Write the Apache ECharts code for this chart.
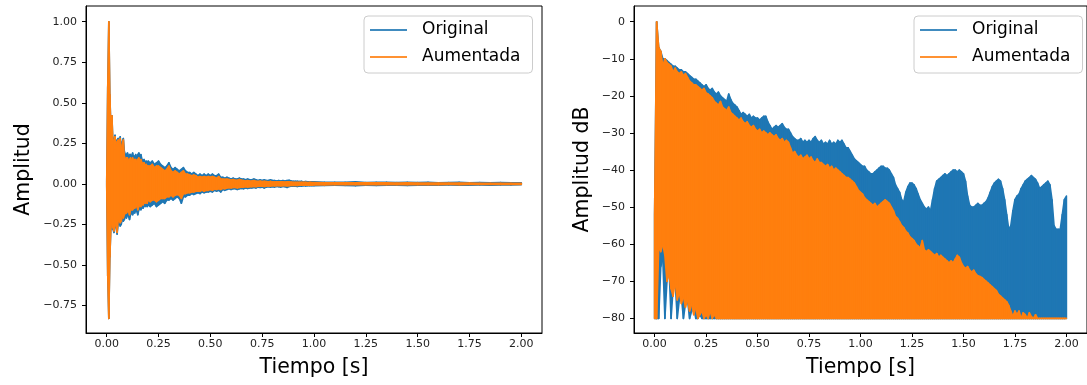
<!DOCTYPE html>
<html>
<head>
<meta charset="utf-8">
<script src="https://cdn.jsdelivr.net/npm/echarts@6/dist/echarts.min.js"></script>
<style>
  html, body { margin: 0; padding: 0; background: #fff; }
  #chart { width: 1087px; height: 385px; }
</style>
</head>
<body>
<div id="chart"></div>
<script>
// ---------------- DATA ----------------
const SERIES_NAMES = ['Original', 'Aumentada'];
const X_TICKS = [0, 0.25, 0.5, 0.75, 1.0, 1.25, 1.5, 1.75, 2.0];
const Y_TICKS_AMP = [-0.75, -0.5, -0.25, 0, 0.25, 0.5, 0.75, 1.0];
const Y_TICKS_DB = [-80, -70, -60, -50, -40, -30, -20, -10, 0];

// Left panel sample grid (start, step, count) : envelope readings of the waveform
const L_TIME_SEGMENTS = [[0, 0.005, 40], [0.2, 0.01, 80], [1.0, 0.05, 21]];

// Original (blue) waveform upper / lower envelope
const L_ORIG_UP = [
  0.01, 0.60, 1.00, 0.55, 0.35, 0.42, 0.25, 0.28, 0.30, 0.22, 0.27, 0.28, 0.25, 0.29, 0.22, 0.26, 0.28, 0.20, 0.18, 0.18,
  0.19, 0.17, 0.18, 0.18, 0.17, 0.19, 0.16, 0.17, 0.18, 0.16, 0.18, 0.19, 0.17, 0.18, 0.15, 0.14, 0.15, 0.13, 0.14, 0.13,
  0.14, 0.13, 0.14, 0.12, 0.13, 0.14, 0.12, 0.11, 0.10, 0.11,
  0.13, 0.10, 0.09, 0.10, 0.09, 0.08, 0.09, 0.10, 0.08, 0.07,
  0.07, 0.06, 0.07, 0.06, 0.05, 0.06, 0.05, 0.06, 0.05, 0.06,
  0.05, 0.06, 0.05, 0.05, 0.06, 0.04, 0.04, 0.035, 0.04, 0.035,
  0.03, 0.035, 0.03, 0.03, 0.035, 0.03, 0.03, 0.025, 0.03, 0.025,
  0.025, 0.03, 0.025, 0.02, 0.025, 0.02, 0.025, 0.02, 0.02, 0.025,
  0.02, 0.02, 0.018, 0.02, 0.018, 0.02, 0.018, 0.02, 0.022, 0.018,
  0.016, 0.015, 0.016, 0.014, 0.015, 0.013, 0.014, 0.012, 0.013, 0.012,
  0.012, 0.01, 0.01, 0.009, 0.012, 0.008, 0.009, 0.01, 0.008, 0.009, 0.008, 0.01, 0.007, 0.008, 0.009, 0.007, 0.008, 0.007, 0.008, 0.007, 0.007
];
const L_ORIG_LO = [
  -0.01, -0.57, -0.83, -0.45, -0.28, -0.22, -0.28, -0.30, -0.24, -0.27, -0.31, -0.25, -0.24, -0.26, -0.25, -0.22, -0.23, -0.22, -0.20, -0.21,
  -0.19, -0.20, -0.22, -0.19, -0.18, -0.19, -0.17, -0.18, -0.16, -0.17, -0.19, -0.16, -0.15, -0.16, -0.14, -0.15, -0.13, -0.14, -0.13, -0.14,
  -0.13, -0.14, -0.13, -0.12, -0.14, -0.13, -0.12, -0.11, -0.12, -0.10,
  -0.10, -0.09, -0.10, -0.09, -0.08, -0.09, -0.12, -0.08, -0.08, -0.07,
  -0.07, -0.06, -0.065, -0.06, -0.055, -0.06, -0.05, -0.055, -0.05, -0.05,
  -0.045, -0.05, -0.04, -0.045, -0.04, -0.05, -0.035, -0.04, -0.035, -0.03,
  -0.035, -0.03, -0.03, -0.035, -0.03, -0.028, -0.03, -0.025, -0.028, -0.025,
  -0.025, -0.022, -0.025, -0.02, -0.022, -0.02, -0.025, -0.02, -0.018, -0.02,
  -0.018, -0.02, -0.016, -0.018, -0.02, -0.016, -0.018, -0.022, -0.016, -0.015,
  -0.015, -0.014, -0.016, -0.013, -0.014, -0.012, -0.013, -0.012, -0.011, -0.012,
  -0.012, -0.01, -0.009, -0.01, -0.012, -0.008, -0.01, -0.009, -0.008, -0.01, -0.008, -0.009, -0.008, -0.007, -0.009, -0.008, -0.007, -0.008, -0.007, -0.007, -0.006
];
// Aumentada (orange) waveform upper / lower envelope
const L_AUG_UP = [
  0.01, 0.60, 1.00, 0.55, 0.33, 0.42, 0.24, 0.27, 0.29, 0.21, 0.26, 0.27, 0.23, 0.28, 0.20, 0.24, 0.27, 0.17, 0.15, 0.16,
  0.16, 0.14, 0.15, 0.16, 0.14, 0.16, 0.14, 0.15, 0.15, 0.13, 0.15, 0.16, 0.14, 0.15, 0.13, 0.12, 0.13, 0.11, 0.12, 0.11,
  0.11, 0.11, 0.12, 0.10, 0.11, 0.11, 0.10, 0.09, 0.08, 0.09,
  0.11, 0.08, 0.07, 0.08, 0.07, 0.06, 0.07, 0.08, 0.06, 0.06,
  0.055, 0.05, 0.055, 0.05, 0.04, 0.045, 0.04, 0.045, 0.04, 0.045,
  0.04, 0.045, 0.04, 0.035, 0.045, 0.03, 0.03, 0.028, 0.03, 0.026,
  0.024, 0.026, 0.022, 0.022, 0.026, 0.022, 0.02, 0.018, 0.02, 0.018,
  0.018, 0.02, 0.016, 0.015, 0.017, 0.014, 0.016, 0.014, 0.013, 0.015,
  0.013, 0.013, 0.012, 0.013, 0.012, 0.012, 0.011, 0.012, 0.012, 0.011,
  0.01, 0.01, 0.01, 0.009, 0.01, 0.009, 0.009, 0.008, 0.009, 0.008,
  0.008, 0.007, 0.007, 0.006, 0.007, 0.006, 0.006, 0.006, 0.005, 0.006, 0.005, 0.005, 0.005, 0.005, 0.005, 0.005, 0.004, 0.004, 0.004, 0.004, 0.004
];
const L_AUG_LO = [
  -0.01, -0.57, -0.83, -0.45, -0.27, -0.21, -0.27, -0.29, -0.23, -0.26, -0.30, -0.23, -0.22, -0.24, -0.23, -0.20, -0.21, -0.19, -0.18, -0.18,
  -0.17, -0.17, -0.19, -0.16, -0.16, -0.16, -0.15, -0.15, -0.14, -0.14, -0.16, -0.14, -0.13, -0.14, -0.12, -0.13, -0.11, -0.12, -0.11, -0.12,
  -0.10, -0.11, -0.10, -0.10, -0.11, -0.10, -0.09, -0.09, -0.09, -0.08,
  -0.08, -0.07, -0.08, -0.07, -0.065, -0.07, -0.09, -0.06, -0.06, -0.055,
  -0.055, -0.05, -0.05, -0.045, -0.045, -0.045, -0.04, -0.045, -0.04, -0.04,
  -0.035, -0.04, -0.032, -0.035, -0.03, -0.035, -0.028, -0.03, -0.026, -0.024,
  -0.025, -0.022, -0.022, -0.025, -0.022, -0.02, -0.02, -0.018, -0.02, -0.018,
  -0.017, -0.016, -0.017, -0.014, -0.015, -0.014, -0.016, -0.014, -0.013, -0.014,
  -0.012, -0.013, -0.011, -0.012, -0.013, -0.011, -0.012, -0.013, -0.011, -0.01,
  -0.01, -0.01, -0.01, -0.009, -0.009, -0.008, -0.009, -0.008, -0.008, -0.008,
  -0.007, -0.007, -0.006, -0.006, -0.006, -0.006, -0.005, -0.006, -0.005, -0.005, -0.005, -0.005, -0.005, -0.004, -0.005, -0.004, -0.004, -0.004, -0.004, -0.004, -0.004
];

// Right panel (dB), samples every 0.01 s from 0 to 2.00 s
const R_TIME_SEGMENTS = [[0, 0.01, 201]];
const DB_FLOOR = -80;
const R_ORIG_UP = [
  -52, 0, -7, -8, -10, -10, -10.5, -11, -11.5, -12,
  -12, -12.5, -13, -13, -13.5, -13.5, -14, -14.5, -15, -15.5,
  -15.5, -16, -16.5, -17, -17.5, -17, -18, -18.5, -18, -19,
  -19.5, -19, -20, -20.5, -21, -21.5, -19.5, -21, -22, -22.5,
  -23, -24, -25, -24.5, -25, -25.5, -25, -26, -25.5, -26,
  -26, -26.5, -26, -25.5, -25.5, -27, -28, -29, -28.5, -28,
  -28.5, -28, -27.5, -28.5, -29, -29, -30, -31, -31.5, -32,
  -32, -31.5, -32.5, -32, -32.5, -32, -32.5, -31.5, -31, -32,
  -32.5, -32, -33, -32.5, -33, -32, -33, -32.5, -33, -32,
  -32.5, -32, -33, -34, -34, -35, -36, -37, -37.5, -38,
  -38.5, -39, -39, -40, -40.5, -41, -41, -40.5, -40, -39.5,
  -39, -39, -39.5, -39.5, -40, -41, -42, -44, -45, -46,
  -48, -48.5, -46, -44.5, -43.5, -43.5, -44, -45, -46.5, -48,
  -49, -50, -50.5, -50, -51, -48, -45, -43, -42.5, -42,
  -41.5, -41, -41.5, -41, -40.5, -40, -40, -40.5, -40, -40.5,
  -41, -43, -47, -49.5, -50, -50, -49.5, -49, -49.5, -49.5,
  -49, -48.5, -47.5, -46, -44.5, -43.5, -43, -42.5, -43, -45,
  -48, -52, -56, -55, -51, -48, -47, -46.5, -45, -44,
  -43, -42.5, -42, -41.5, -42, -42.5, -43.5, -45, -44.5, -44,
  -43.5, -43, -44, -48, -55, -56, -56, -56, -52, -48,
  -47
];
const R_AUG_UP = [
  -52, 0, -7, -8, -12, -10, -11, -11.5, -12, -13.5,
  -12.5, -13.5, -14, -13.5, -14.5, -14, -15, -16, -16.5, -17,
  -17, -17.5, -18, -18.5, -18, -19.2, -19.5, -20, -20.5, -21.5,
  -22, -22.5, -21.5, -23, -23.5, -24, -23, -24.5, -25, -25.5,
  -26, -26.5, -26, -27, -27.5, -27, -28, -28.5, -28, -29,
  -29.5, -29, -30, -29.5, -30, -30.5, -30, -30.5, -31, -30.5,
  -31.5, -32, -31.5, -32.5, -32, -32.5, -34, -35.5, -35, -36,
  -36.5, -36, -37, -36.5, -36, -37, -36.5, -37.5, -38, -37,
  -38, -38, -38.5, -39, -38.5, -39.5, -39, -40, -39.5, -40,
  -40.5, -41, -41.5, -42, -42, -42.5, -43, -43.5, -44.5, -45.5,
  -46, -46.5, -47.5, -48, -48.5, -49, -49.5, -49, -50, -49.5,
  -49, -48.5, -48, -48.5, -49, -50, -51, -52.5, -53, -54,
  -55, -55.5, -56.5, -57, -58, -58.5, -59, -60, -60.5, -61,
  -59, -61.5, -62, -61.5, -62, -62.5, -63, -62.5, -63.5, -63,
  -63.5, -64, -64.5, -65, -64.5, -65, -64, -63, -63.5, -65,
  -66, -66.5, -66, -67, -67.5, -67, -68, -68.5, -68.7, -69,
  -69.5, -70, -70.5, -71, -71.5, -72, -72.5, -73.5, -74, -74.5,
  -75, -75.5, -76.5, -78, -79.5, -78, -79, -78, -80, -78.5,
  -79, -80, -78.5, -79.5, -80, -79, -80, -80, -80, -80,
  -80, -80, -80, -80, -80, -80, -80, -80, -80, -80,
  -80
];
// lower envelopes in dB for the first samples; later samples sit on the -80 dB floor
const R_ORIG_LO_EARLY = [-80, -80, -80, -66, -64, -80, -70, -66, -80, -72, -70, -80, -75, -74, -80, -76, -75, -80, -78, -77, -80, -80, -79, -80];
const R_AUG_LO_EARLY = [-80, -80, -61, -62, -60, -63, -70, -68, -72, -74, -70, -75, -73, -76, -74, -77, -75, -78, -76, -79, -77, -80, -79, -78, -80, -79, -80, -78, -80, -79];

// ---------------- BUILD ----------------
const BLUE = '#1f77b4', ORANGE = '#ff7f0e';
const FONT = 'DejaVu Sans';

function times(segs) {
  const out = [];
  segs.forEach(([s, step, n]) => { for (let i = 0; i < n; i++) out.push(+(s + i * step).toFixed(4)); });
  return out;
}
// one row per pair of consecutive samples: [t0, up0, lo0, t1, up1, lo1]
function bandRows(ts, up, lo) {
  const L = i => (typeof lo === 'function') ? lo(i) : lo[i];
  const rows = [];
  for (let i = 0; i < ts.length - 1; i++) {
    rows.push([ts[i], up[i], L(i), ts[i + 1], up[i + 1], L(i + 1)]);
  }
  return rows;
}
const TL = times(L_TIME_SEGMENTS);
const TR = times(R_TIME_SEGMENTS);
const floorLo = arr => i => (i < arr.length ? arr[i] : DB_FLOOR);

const minusFmt = d => v => (v < 0 ? '\u2212' : '') + Math.abs(v).toFixed(d);

function xAxis(gi) {
  return {
    type: 'value', gridIndex: gi, min: -0.1, max: 2.1,
    name: 'Tiempo [s]', nameLocation: 'middle', nameGap: 24,
    nameTextStyle: { fontFamily: FONT, fontSize: 20.5, color: '#000' },
    axisLine: { show: true, onZero: false, lineStyle: { color: '#000', width: 1 } },
    axisTick: { show: true, customValues: X_TICKS, length: 4, lineStyle: { color: '#000', width: 1 } },
    axisLabel: { customValues: X_TICKS, formatter: minusFmt(2), fontFamily: FONT, fontSize: 11, color: '#222', margin: 6 },
    splitLine: { show: false }
  };
}
function yAxis(gi, min, max, ticks, dec, name, gap) {
  return {
    type: 'value', gridIndex: gi, min: min, max: max,
    name: name, nameLocation: 'middle', nameGap: gap, nameRotate: 90,
    nameTextStyle: { fontFamily: FONT, fontSize: 20.5, color: '#000' },
    axisLine: { show: true, onZero: false, lineStyle: { color: '#000', width: 1 } },
    axisTick: { show: true, customValues: ticks, length: 4, lineStyle: { color: '#000', width: 1 } },
    axisLabel: { customValues: ticks, formatter: minusFmt(dec), fontFamily: FONT, fontSize: 11, color: '#222', margin: 9 },
    splitLine: { show: false }
  };
}
function legend(left) {
  return {
    orient: 'vertical', left: left, top: 16, data: SERIES_NAMES, selectedMode: false,
    icon: 'rect', itemWidth: 37, itemHeight: 2, itemGap: 7,
    padding: [4, 12, 6, 6],
    borderColor: '#cccccc', borderWidth: 1, borderRadius: 4,
    backgroundColor: 'rgba(255,255,255,0.8)',
    itemStyle: { opacity: 0.85 },
    textStyle: { fontFamily: FONT, fontSize: 17, color: '#000', lineHeight: 20, padding: [0, 0, 0, 10] }
  };
}
function band(name, color, gi, rows) {
  return {
    type: 'custom', name: name, xAxisIndex: gi, yAxisIndex: gi, data: rows,
    silent: true, clip: true,
    itemStyle: { color: color },
    encode: { x: [0, 3], y: [1, 2, 4, 5] },
    renderItem: function (params, api) {
      const a = api.coord([api.value(0), api.value(1)]);
      const b = api.coord([api.value(3), api.value(4)]);
      const c = api.coord([api.value(3), api.value(5)]);
      const d = api.coord([api.value(0), api.value(2)]);
      return {
        type: 'polygon',
        shape: { points: [a, b, c, d] },
        style: { fill: color, stroke: color, lineWidth: 1.6, lineJoin: 'round' }
      };
    }
  };
}

const chart = echarts.init(document.getElementById('chart'), null, { renderer: 'canvas' });
chart.setOption({
  animation: false,
  backgroundColor: '#fff',
  grid: [
    { left: 86, top: 6, width: 456, height: 327, show: true, borderColor: '#000', borderWidth: 1, backgroundColor: 'transparent' },
    { left: 634, top: 6, width: 456, height: 327, show: true, borderColor: '#000', borderWidth: 1, backgroundColor: 'transparent' }
  ],
  xAxis: [xAxis(0), xAxis(1)],
  yAxis: [
    yAxis(0, -0.92, 1.097, Y_TICKS_AMP, 2, 'Amplitud', 52),
    yAxis(1, -83.93, 4.23, Y_TICKS_DB, 0, 'Amplitud dB', 41)
  ],
  legend: [legend(364), legend(914)],
  series: [
    band('Original', BLUE, 0, bandRows(TL, L_ORIG_UP, L_ORIG_LO)),
    band('Aumentada', ORANGE, 0, bandRows(TL, L_AUG_UP, L_AUG_LO)),
    band('Original', BLUE, 1, bandRows(TR, R_ORIG_UP, floorLo(R_ORIG_LO_EARLY))),
    band('Aumentada', ORANGE, 1, bandRows(TR, R_AUG_UP, floorLo(R_AUG_LO_EARLY)))
  ]
});
</script>
</body>
</html>
